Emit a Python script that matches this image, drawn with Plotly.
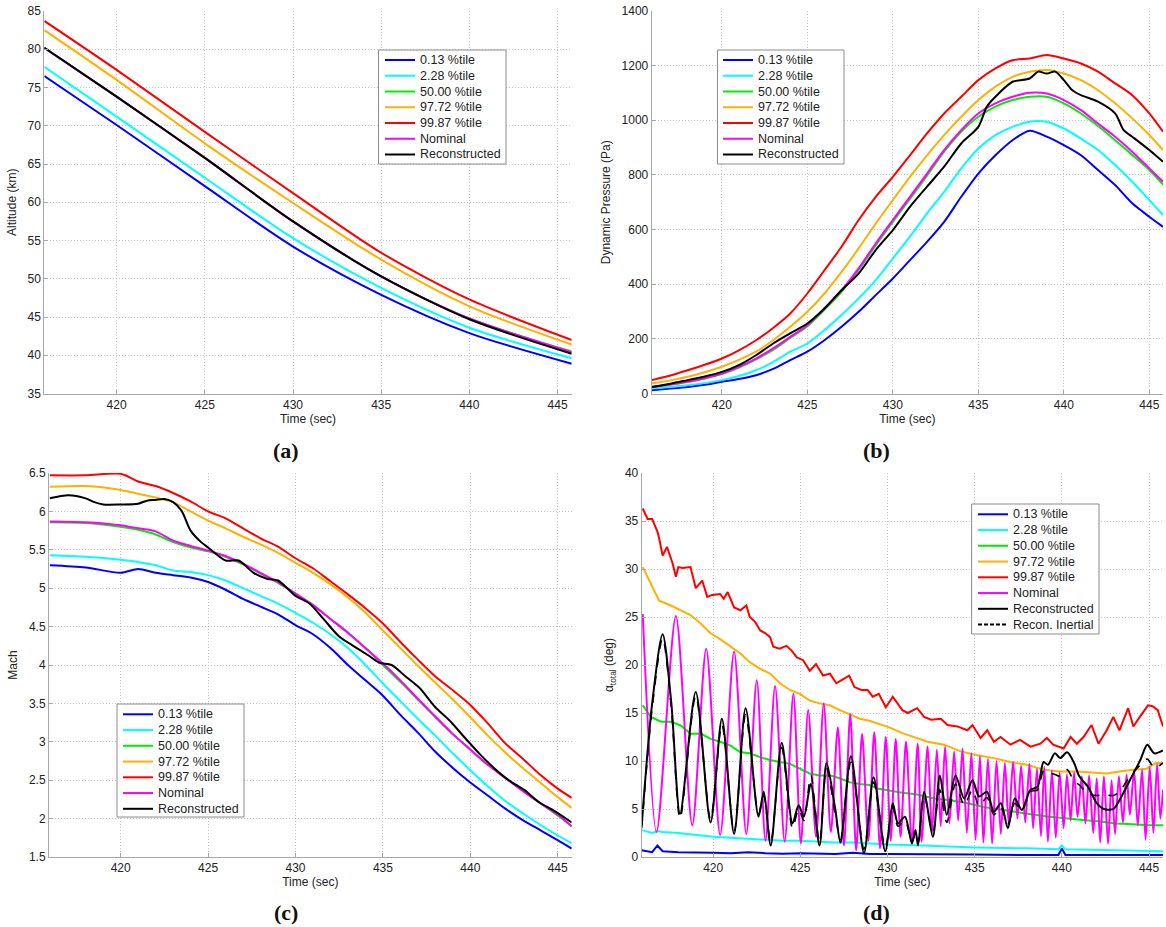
import plotly.graph_objects as go

# ---------------- data ----------------
names = ["0.13 %tile", "2.28 %tile", "50.00 %tile", "97.72 %tile", "99.87 %tile", "Nominal", "Reconstructed"]
colors = ["#0000ff", "#00ffff", "#00ee00", "#ffb000", "#ff0000", "#ff00ff", "#000000"]

# (a) Altitude (km)
t_a = [415.9, 420, 425, 430, 435, 440, 445.8]
alt_p013 = [76.5, 70.1, 62.1, 54.2, 47.9, 42.9, 38.9]
alt_p228 = [77.7, 71.2, 63.2, 55.3, 48.8, 43.6, 39.6]
alt_p50 = [80.2, 73.8, 65.8, 57.5, 50.3, 44.8, 40.5]
alt_p9772 = [82.5, 76.0, 67.7, 59.9, 52.5, 46.4, 41.4]
alt_p9987 = [83.7, 77.3, 69.2, 61.2, 53.4, 47.3, 42.0]
alt_nom = [80.2, 73.8, 65.8, 57.5, 50.3, 44.8, 40.4]
alt_rec = [80.2, 73.8, 65.8, 57.5, 50.3, 44.7, 40.2]

# (b) Dynamic pressure (Pa)
t_b = [415.9, 417, 418, 419, 420, 421, 422, 423, 424, 425, 426, 427, 428, 429, 430, 431, 432,
       433, 434, 435, 436, 437, 438, 439, 440, 441, 442, 443, 444, 445, 445.8]
q_p013 = [12, 18, 24, 32, 43, 53, 67, 90, 122, 153, 195, 244, 299, 360, 421, 488, 555,
          628, 720, 805, 872, 927, 962, 940, 909, 872, 818, 763, 696, 647, 610]
q_p228 = [18, 24, 30, 38, 49, 64, 85, 115, 153, 183, 232, 287, 348, 415, 494, 574, 659,
          738, 824, 897, 946, 976, 995, 995, 970, 933, 891, 836, 775, 708, 653]
q_p50 = [24, 33, 42, 55, 71, 95, 125, 160, 203, 246, 306, 372, 452, 542, 628, 712, 797,
         885, 958, 1013, 1050, 1074, 1086, 1086, 1062, 1025, 979, 927, 873, 818, 765]
q_p9772 = [37, 48, 61, 78, 98, 123, 153, 195, 244, 299, 366, 445, 531, 622, 708, 793, 872,
           946, 1013, 1074, 1123, 1159, 1178, 1184, 1171, 1147, 1110, 1062, 1007, 946, 891]
q_p9987 = [49, 66, 85, 105, 128, 158, 195, 240, 293, 366, 451, 537, 635, 720, 793, 872, 952,
           1025, 1086, 1147, 1190, 1220, 1226, 1239, 1226, 1208, 1178, 1135, 1092, 1025, 958]
q_nom = [24, 33, 43, 56, 73, 98, 128, 165, 207, 250, 311, 378, 458, 549, 635, 720, 805,
         891, 964, 1025, 1062, 1086, 1101, 1098, 1074, 1037, 988, 940, 885, 824, 775]
t_b_rec = [415.9, 417, 418, 419, 420, 421, 422, 423, 424, 425, 426, 427, 428, 429, 430, 431,
           432, 433, 434, 435, 435.5, 436, 437, 438, 438.5, 439, 439.5, 440, 440.5, 441, 442,
           443, 443.5, 444, 445, 445.8]
q_rec = [24, 36, 49, 62, 79, 104, 140, 183, 220, 256, 311, 378, 439, 525, 598, 683,
         757, 830, 915, 976, 1050, 1086, 1141, 1153, 1178, 1171, 1178, 1147, 1110, 1092, 1068,
         1025, 964, 940, 891, 848]

# (c) Mach
t_c = [415.95, 418, 420, 421, 422, 423, 424, 425, 426, 427, 428, 429, 430, 431, 432, 433,
       434, 435, 436, 437, 438, 439, 440, 441, 442, 443, 444, 445, 445.8]
m_p013 = [5.30, 5.27, 5.20, 5.25, 5.20, 5.17, 5.14, 5.08, 4.98, 4.86, 4.76, 4.66, 4.52, 4.40,
          4.22, 4.00, 3.80, 3.60, 3.35, 3.12, 2.87, 2.66, 2.47, 2.30, 2.13, 1.98, 1.85, 1.72, 1.61]
m_p228 = [5.43, 5.41, 5.37, 5.34, 5.30, 5.23, 5.21, 5.17, 5.10, 5.00, 4.90, 4.80, 4.68, 4.55,
          4.40, 4.22, 4.00, 3.76, 3.53, 3.30, 3.08, 2.85, 2.63, 2.42, 2.23, 2.07, 1.92, 1.78, 1.68]
m_p50 = [5.86, 5.85, 5.80, 5.76, 5.70, 5.60, 5.53, 5.48, 5.41, 5.31, 5.19, 5.07, 4.93, 4.78,
         4.60, 4.42, 4.22, 4.00, 3.78, 3.55, 3.32, 3.10, 2.90, 2.70, 2.53, 2.36, 2.20, 2.04, 1.90]
m_p9772 = [6.32, 6.33, 6.28, 6.23, 6.18, 6.12, 6.00, 5.88, 5.78, 5.67, 5.57, 5.46, 5.33, 5.20,
           5.05, 4.88, 4.68, 4.45, 4.22, 3.99, 3.77, 3.55, 3.32, 3.08, 2.86, 2.66, 2.47, 2.28, 2.14]
m_p9987 = [6.47, 6.47, 6.49, 6.39, 6.33, 6.24, 6.13, 6.00, 5.91, 5.78, 5.65, 5.54, 5.39, 5.26,
           5.09, 4.92, 4.74, 4.54, 4.30, 4.07, 3.85, 3.67, 3.48, 3.24, 2.98, 2.78, 2.57, 2.39, 2.27]
m_nom = [5.87, 5.86, 5.82, 5.78, 5.74, 5.62, 5.55, 5.49, 5.42, 5.32, 5.20, 5.08, 4.93, 4.78,
         4.60, 4.42, 4.22, 4.02, 3.80, 3.56, 3.33, 3.10, 2.90, 2.70, 2.53, 2.36, 2.20, 2.05, 1.90]
t_c_rec = [415.95, 417, 418, 418.5, 419, 420, 421, 421.5, 422, 422.5, 423, 423.5, 424, 424.6,
           425, 426, 426.75, 427.6, 428.4, 429, 430, 430.8, 431.6, 432.5, 433.3, 434.2, 434.8,
           435.5, 436.3, 437.1, 438, 438.8, 439.7, 440.5, 441.4, 442.2, 443.1, 443.9, 444.8, 445.8]
m_rec = [6.17, 6.21, 6.17, 6.12, 6.09, 6.09, 6.10, 6.14, 6.15, 6.16, 6.12, 6.00, 5.75, 5.60,
         5.53, 5.36, 5.36, 5.20, 5.12, 5.10, 4.90, 4.80, 4.60, 4.37, 4.25, 4.12, 4.03,
         4.00, 3.85, 3.70, 3.45, 3.28, 3.05, 2.85, 2.65, 2.50, 2.37, 2.22, 2.10, 1.95]

# (d) alpha total (deg)
t_d_lo = [415.9, 416.5, 416.8, 417.1, 418, 419, 420, 421, 422, 423, 424, 425, 426, 427, 428,
          429, 430, 432, 435, 438, 439.8, 440, 440.2, 443, 445.8]
a_p013 = [0.7, 0.5, 1.2, 0.6, 0.5, 0.5, 0.45, 0.4, 0.5, 0.4, 0.35, 0.4, 0.35, 0.3, 0.45,
          0.3, 0.3, 0.3, 0.25, 0.2, 0.2, 0.9, 0.2, 0.2, 0.2]
a_p228 = [2.8, 2.5, 2.7, 2.6, 2.5, 2.3, 2.1, 2.0, 1.9, 1.8, 1.7, 1.7, 1.6, 1.5, 1.5,
          1.4, 1.3, 1.2, 1.0, 0.9, 0.8, 1.2, 0.8, 0.7, 0.6]
t_d_mid = [415.96, 416.43, 417.0, 417.57, 418.14, 418.7, 419.3, 419.85, 420.4, 421.0, 421.56,
           422.1, 422.7, 423.26, 423.83, 424.4, 424.97, 425.54, 426.1, 426.7, 427.25, 427.8,
           428.4, 428.96, 429.5, 430.1, 430.85, 431.7, 432.7, 433.6, 434.6, 435.5, 436.5,
           437.4, 438.4, 439.3, 440.3, 441.2, 442.2, 443.1, 444.1, 445.0, 445.8]
a_p50 = [15.8, 14.6, 14.1, 14.1, 13.7, 12.85, 12.85, 12.3, 12.0, 11.6, 10.9, 10.8, 10.4,
         10.1, 9.9, 9.7, 9.2, 8.7, 8.5, 8.5, 8.2, 7.8, 7.6, 7.5, 7.1, 6.9, 6.7, 6.5, 6.1,
         5.9, 5.6, 5.2, 4.9, 4.7, 4.4, 4.2, 4.0, 3.85, 3.7, 3.5, 3.4, 3.3, 3.3]
t_d_or = [415.96, 416.43, 416.9, 417.57, 418.14, 418.7, 419.3, 419.85, 420.4, 421.0, 421.56,
          422.1, 422.7, 423.26, 423.83, 424.4, 424.97, 425.54, 426.1, 426.7, 427.25, 427.8,
          428.4, 428.96, 429.5, 430.1, 430.85, 431.5, 432.3, 433.25, 434.2, 435.15, 436.1,
          437.05, 438.0, 438.95, 439.9, 440.86, 441.8, 442.57, 443.3, 444.1, 444.85, 445.4, 445.8]
a_p9772 = [30.2, 28.5, 26.7, 26.2, 25.7, 25.2, 24.3, 23.3, 22.7, 21.9, 21.2, 20.3, 19.6,
           19.1, 18.1, 17.4, 17.0, 16.3, 16.0, 15.8, 15.3, 14.9, 14.4, 14.2, 13.9, 13.5, 12.9,
           12.5, 12.0, 11.7, 11.0, 10.6, 10.3, 9.9, 9.6, 9.1, 8.9, 8.9, 8.8, 8.7, 8.9, 9.1,
           9.2, 9.8, 9.8]
t_d_red = [415.96, 416.24, 416.5, 416.8, 416.9, 417.1, 417.35, 417.67, 417.86, 418.0, 418.24,
           418.7, 419.0, 419.37, 419.66, 419.94, 420.4, 420.6, 420.83, 421.2, 421.56, 421.9,
           422.1, 422.4, 422.7, 423.0, 423.26, 423.45, 423.8, 424.2, 424.5, 424.8, 425.16,
           425.54, 425.9, 426.3, 426.7, 427.06, 427.34, 427.8, 428.1, 428.5, 428.86, 429.15,
           429.5, 429.9, 430.3, 430.85, 431.16, 431.7, 432.1, 432.5, 433.06, 433.44, 434.0,
           434.58, 434.87, 435.34, 435.72, 436.1, 436.48, 437.05, 437.6, 438.2, 438.76, 439.14,
           439.5, 440.1, 440.5, 440.86, 441.24, 441.7, 442.1, 442.57, 442.95, 443.3, 443.8,
           444.1, 444.47, 444.94, 445.2, 445.5, 445.8]
a_p9987 = [36.3, 35.2, 35.2, 33.9, 33.2, 31.4, 32.3, 30.6, 29.2, 30.2, 30.1, 30.2, 28.0, 28.8,
           27.1, 27.3, 27.4, 26.9, 27.6, 26.0, 25.7, 26.2, 25.0, 24.5, 23.6, 23.3, 22.9, 21.9,
           21.7, 22.0, 21.5, 20.8, 20.5, 19.4, 20.1, 18.9, 19.1, 18.1, 18.4, 18.9, 17.7, 17.4,
           17.4, 16.7, 17.0, 15.6, 16.7, 15.3, 15.0, 15.5, 14.6, 14.3, 14.4, 13.75, 13.6, 13.2,
           13.75, 12.4, 13.2, 12.0, 12.5, 11.7, 12.2, 11.5, 11.8, 12.4, 11.7, 11.3, 12.5, 11.8,
           12.5, 13.75, 11.8, 13.2, 14.6, 13.2, 15.5, 13.6, 14.6, 15.8, 15.7, 15.3, 13.6]
t_d_nom = [415.96, 416.75, 417.86, 418.8, 419.6, 420.4, 421.2, 421.9, 422.5, 423.0, 423.55,
           424.1, 424.6, 425.03, 425.45, 425.9, 426.34, 426.75, 427.15, 427.5, 427.86, 428.2,
           428.54, 428.9, 429.24, 429.57, 429.9, 430.18, 430.47, 430.75, 431.06, 431.4, 431.73,
           431.95, 432.3, 432.55, 432.83, 433.05, 433.3, 433.55, 433.82, 434.05, 434.3, 434.55,
           434.81, 435.05, 435.3, 435.5, 435.76, 436.0, 436.25, 436.5, 436.73, 436.95, 437.2,
           437.45, 437.66, 437.9, 438.14, 438.35, 438.57, 438.8, 438.99, 439.2, 439.43, 439.65,
           439.87, 440.1, 440.29, 440.5, 440.7, 440.9, 441.14, 441.35, 441.56, 441.8, 442.0,
           442.2, 442.41, 442.65, 442.85, 443.05, 443.27, 443.5, 443.71, 443.9, 444.14, 444.35,
           444.6, 444.8, 445.04, 445.25, 445.46, 445.65, 445.8]
a_nom = [25.3, 2.6, 25.1, 3.3, 21.7, 2.3, 21.4, 2.4, 18.4, 1.7, 17.8, 1.6, 17.0, 1.4, 15.3,
         2.1, 16.0, 2.6, 13.5, 1.2, 14.9, 0.7, 12.8, 1.7, 13.0, 0.9, 12.5, 1.7, 12.3, 2.1,
         12.0, 1.4, 11.8, 1.6, 11.5, 2.5, 11.2, 3.2, 11.5, 3.5, 11.0, 3.8, 11.3, 2.5, 10.8,
         1.8, 10.5, 1.5, 10.2, 1.4, 10.0, 2.4, 9.8, 3.5, 9.9, 4.0, 9.5, 3.6, 9.7, 3.0, 9.2,
         2.2, 9.4, 1.6, 9.0, 2.0, 8.8, 3.0, 8.6, 3.8, 8.8, 4.2, 8.4, 3.5, 8.5, 2.5, 8.2, 1.5,
         8.4, 1.4, 8.0, 2.4, 8.4, 3.6, 8.6, 4.4, 9.0, 3.3, 9.1, 1.8, 9.4, 2.5, 9.7, 4.0, 7.0]
t_d_rec = [415.9, 416.5, 417.1, 417.6, 418.1, 419.0, 419.85, 420.5, 421.2, 421.86, 422.6,
           422.9, 423.3, 423.93, 424.55, 424.9, 425.2, 425.6, 426.1, 426.5, 427.0, 427.3, 427.9,
           428.65, 429.2, 429.87, 430.3, 430.6, 431.0, 431.4, 431.6, 431.75, 432.1, 432.6, 433.0,
           433.4, 433.9, 434.4, 434.87, 435.25, 435.7, 436.1, 436.5, 436.9, 437.3, 437.7, 438.2,
           438.6, 438.95, 439.2, 439.6, 439.9, 440.3, 440.7, 441.0, 441.5, 442.0, 442.4, 442.95,
           443.3, 443.9, 444.5, 444.9, 445.3, 445.8]
a_rec = [3.3, 16.0, 23.2, 16.0, 4.5, 17.2, 3.6, 14.4, 2.4, 15.5, 4.2, 6.8, 1.2, 11.9, 3.5,
         5.4, 4.2, 7.6, 1.2, 9.8, 5.0, 1.5, 10.5, 0.4, 8.3, 0.6, 5.6, 3.5, 4.2, 1.4, 2.8, 1.2,
         6.8, 2.1, 8.5, 4.4, 8.5, 6.1, 8.0, 6.3, 6.8, 4.7, 5.6, 3.0, 6.1, 4.9, 7.0, 7.3, 9.9,
         9.6, 10.8, 10.3, 10.9, 9.8, 8.4, 7.3, 5.6, 5.0, 5.0, 5.9, 8.0, 10.1, 11.7, 10.8, 11.1]
a_rec_inertial = [3.0, 15.5, 22.8, 15.5, 4.0, 16.8, 3.9, 13.8, 2.6, 14.8, 4.5, 6.4, 1.5, 11.4,
                  3.0, 5.0, 3.8, 8.5, 1.5, 9.3, 4.5, 1.8, 9.9, 0.8, 7.8, 1.0, 5.2, 3.2, 3.8, 1.6,
                  2.5, 1.4, 6.4, 2.6, 7.0, 3.6, 7.6, 5.4, 7.0, 5.3, 6.2, 4.4, 5.2, 3.4, 5.6, 4.8,
                  6.8, 7.0, 9.0, 8.8, 8.6, 8.4, 9.1, 7.9, 7.5, 6.6, 6.4, 6.5, 6.4, 6.8, 8.4, 9.6,
                  10.2, 9.3, 9.8]

# ---------------- figure ----------------
W, H = 1166, 927
FONT = "Liberation Sans, Arial, sans-serif"
TXT = "#222222"
fig = go.Figure()


def add(xs, ys, name, color, ax, dash="solid", shape="spline", width=2):
    fig.add_trace(go.Scatter(
        x=xs, y=ys, name=name, mode="lines", showlegend=False,
        line=dict(color=color, width=width, dash=dash, shape=shape, smoothing=0.8),
        xaxis="x" + ax, yaxis="y" + ax))


# panel a
for ys, n, c in zip([alt_p013, alt_p228, alt_p50, alt_p9772, alt_p9987, alt_nom, alt_rec], names, colors):
    add(t_a, ys, n, c, "")
# panel b
for ts, ys, n, c in zip([t_b] * 6 + [t_b_rec], [q_p013, q_p228, q_p50, q_p9772, q_p9987, q_nom, q_rec], names, colors):
    add(ts, ys, n, c, "2")
# panel c
for ts, ys, n, c in zip([t_c] * 6 + [t_c_rec], [m_p013, m_p228, m_p50, m_p9772, m_p9987, m_nom, m_rec], names, colors):
    add(ts, ys, n, c, "3")
# panel d
add(t_d_lo, a_p013, names[0], colors[0], "4", shape="linear")
add(t_d_lo, a_p228, names[1], colors[1], "4", shape="linear")
add(t_d_mid, a_p50, names[2], colors[2], "4", shape="linear")
add(t_d_or, a_p9772, names[3], colors[3], "4", shape="linear")
add(t_d_red, a_p9987, names[4], colors[4], "4", shape="linear")
add(t_d_nom, a_nom, names[5], colors[5], "4")
add(t_d_rec, a_rec, names[6], colors[6], "4")
add(t_d_rec, a_rec_inertial, "Recon. Inertial", "#000000", "4", dash="dash", width=1.6)


def PX(x):
    return x / W


def PY(y):
    return 1 - y / H


GRID = dict(showgrid=True, gridcolor="#c8c8c8", griddash="1px,2px", gridwidth=1, showline=True,
            linecolor="#a8a8a8", linewidth=1, ticks="inside", ticklen=4, tickcolor="#a8a8a8",
            zeroline=False, tickfont=dict(family=FONT, size=12, color=TXT), automargin=False)
xcommon = dict(GRID, range=[415.9, 445.8], tick0=420, dtick=5,
               title=dict(text="Time (sec)", font=dict(family=FONT, size=12, color=TXT), standoff=2))


def ytitle(t):
    return dict(text=t, font=dict(family=FONT, size=12, color=TXT), standoff=8)


fig.update_layout(
    width=W, height=H, margin=dict(l=0, r=0, t=0, b=0),
    paper_bgcolor="white", plot_bgcolor="white",
    font=dict(family=FONT, size=12, color=TXT),
    xaxis=dict(xcommon, domain=[PX(44.3), PX(571.7)], anchor="y"),
    yaxis=dict(GRID, domain=[PY(393.5), PY(11)], range=[35, 85], dtick=5, anchor="x",
               title=ytitle("Altitude (km)")),
    xaxis2=dict(xcommon, domain=[PX(651.7), PX(1163)], anchor="y2"),
    yaxis2=dict(GRID, domain=[PY(393.5), PY(11)], range=[0, 1400], dtick=200, anchor="x2",
                title=ytitle("Dynamic Pressure (Pa)")),
    xaxis3=dict(xcommon, domain=[PX(49), PX(571.7)], anchor="y3"),
    yaxis3=dict(GRID, domain=[PY(857), PY(473)], range=[1.5, 6.5], dtick=0.5, anchor="x3",
                title=ytitle("Mach")),
    xaxis4=dict(xcommon, domain=[PX(641.7), PX(1163)], anchor="y4"),
    yaxis4=dict(GRID, domain=[PY(857), PY(473)], range=[0, 40], dtick=5, anchor="x4",
                title=ytitle("α<sub>total</sub> (deg)")),
)

# ---------- legends (boxes, sample lines and labels) ----------
ROW = 15.75
legend_specs = [
    # box left, box top, box right, box bottom, line start, first row centre, entries
    (378.5, 50, 506, 164, 385, 60, names, colors, ["solid"] * 7),
    (717.5, 50, 844, 164, 723, 60, names, colors, ["solid"] * 7),
    (117, 704, 244, 817, 123, 714.3, names, colors, ["solid"] * 7),
    (971.6, 504, 1099, 634, 978, 514.3, names + ["Recon. Inertial"], colors + ["#000000"],
     ["solid"] * 7 + ["dash"]),
]
shapes = []
for bl, bt, br, bb, lx, ry, lab, col, dsh in legend_specs:
    shapes.append(dict(type="rect", xref="paper", yref="paper", x0=PX(bl), x1=PX(br),
                       y0=PY(bb), y1=PY(bt), line=dict(color="#8c8c8c", width=1),
                       fillcolor="white", layer="above"))
    for i, (n, c, d) in enumerate(zip(lab, col, dsh)):
        yy = ry + i * ROW
        shapes.append(dict(type="line", xref="paper", yref="paper", x0=PX(lx), x1=PX(lx + 30),
                           y0=PY(yy), y1=PY(yy),
                           line=dict(color=c, width=2, dash="solid" if d == "solid" else "4px,2px"),
                           layer="above"))
        fig.add_annotation(text=n, x=PX(lx + 33), y=PY(yy), xref="paper", yref="paper",
                           showarrow=False, xanchor="left", yanchor="middle",
                           font=dict(family=FONT, size=12.5, color=TXT))
fig.update_layout(shapes=shapes)

labels = [("(a)", 286, 450), ("(b)", 876, 450), ("(c)", 286, 912), ("(d)", 876, 912)]
for txt, xp, yp in labels:
    fig.add_annotation(text="<b>" + txt + "</b>", x=PX(xp), y=PY(yp), xref="paper", yref="paper",
                       showarrow=False, xanchor="center", yanchor="middle",
                       font=dict(family="Liberation Serif, Times New Roman, serif", size=22, color="#111"))

fig.write_html("out.html", config={"displayModeBar": False},
               post_script="document.body.style.margin='0';document.body.style.overflow='hidden';")
